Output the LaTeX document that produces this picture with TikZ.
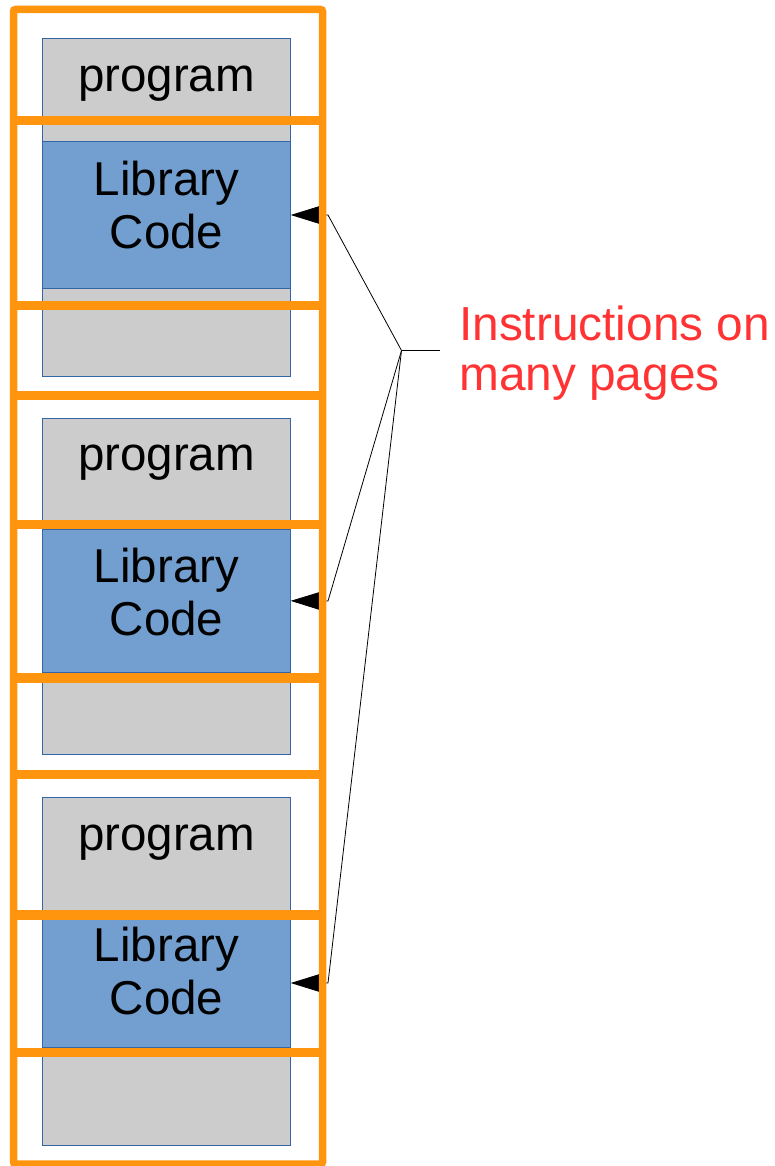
\documentclass[tikz,border=0pt]{standalone}
\usepackage{fontspec}
\setmainfont{Liberation Sans}
\usetikzlibrary{arrows.meta}
\definecolor{pagegray}{HTML}{CCCCCC}
\definecolor{libblue}{HTML}{729FCF}
\definecolor{edgeblue}{HTML}{3465A4}
\definecolor{frameorange}{HTML}{FF950E}
\definecolor{notered}{HTML}{FF3333}
\begin{document}
\begin{tikzpicture}[x=1pt,y=-1pt,
  graybox/.style={draw=edgeblue,fill=pagegray,line width=0.8pt,inner sep=0pt,outer sep=0pt,
    minimum width=248.4pt,anchor=north west},
  bluebox/.style={graybox,fill=libblue},
  bigtext/.style={font=\fontsize{47.5}{53}\selectfont,inner sep=0pt,align=center},
  notetext/.style={font=\fontsize{47.8}{50}\selectfont,text=notered,inner sep=0pt,align=left},
  callout/.style={draw=black,line width=0.8pt},
  arrowline/.style={callout,-{Triangle[length=31pt,width=19pt]}},
  framebox/.style={draw=frameorange,line width=7.5pt,rounded corners=2pt},
  divider/.style={draw=frameorange,line width=9.5pt},
]
\useasboundingbox (0,0) rectangle (775,1166);

% memory segments
\node[graybox,minimum height=337.7pt] (page1) at (42.3,38.3) {};
\node[bluebox,minimum height=146.6pt] (lib1) at (42.3,141.7) {};
\node[graybox,minimum height=335.7pt] (page2) at (42.3,418.3) {};
\node[bluebox,minimum height=143.7pt] (lib2) at (42.3,529) {};
\node[graybox,minimum height=347.3pt] (page3) at (42.3,797.7) {};
\node[bluebox,minimum height=128pt] (lib3) at (42.3,919) {};

% segment labels (base anchor sits on the last line)
\node[bigtext,anchor=base] (prog1) at (166.5,91.7) {program};
\node[bigtext,anchor=base] (libtxt1) at (166.5,248) {Library\\Code};
\node[bigtext,anchor=base] (prog2) at (166.5,470) {program};
\node[bigtext,anchor=base] (libtxt2) at (166.5,635) {Library\\Code};
\node[bigtext,anchor=base] (prog3) at (166.5,850) {program};
\node[bigtext,anchor=base] (libtxt3) at (166.5,1014) {Library\\Code};

% callout
\coordinate (j) at (401.5,350.5);
\coordinate (tick) at (439.5,350.5);
\coordinate (b1) at (328,215);
\coordinate (b2) at (328,601);
\coordinate (b3) at (328,983);
\node[notetext,anchor=base west] (note) at (459,390) {Instructions on\\many pages};
\draw[callout,line width=1.3pt] (j) -- (tick);
\draw[arrowline] (j) -- (b1) -- (lib1.east);
\draw[arrowline] (j) -- (b2) -- (lib2.east);
\draw[arrowline] (j) -- (b3) -- (lib3.east);

% page frames
\draw[framebox] (13.5,9.5) rectangle (322.5,1164);
\foreach \yy in {120.5,305.5,395.5,524.5,678,774.5,915,1052.5}
  \draw[divider] (13.5,\yy) -- (322.5,\yy);
\end{tikzpicture}
\end{document}
